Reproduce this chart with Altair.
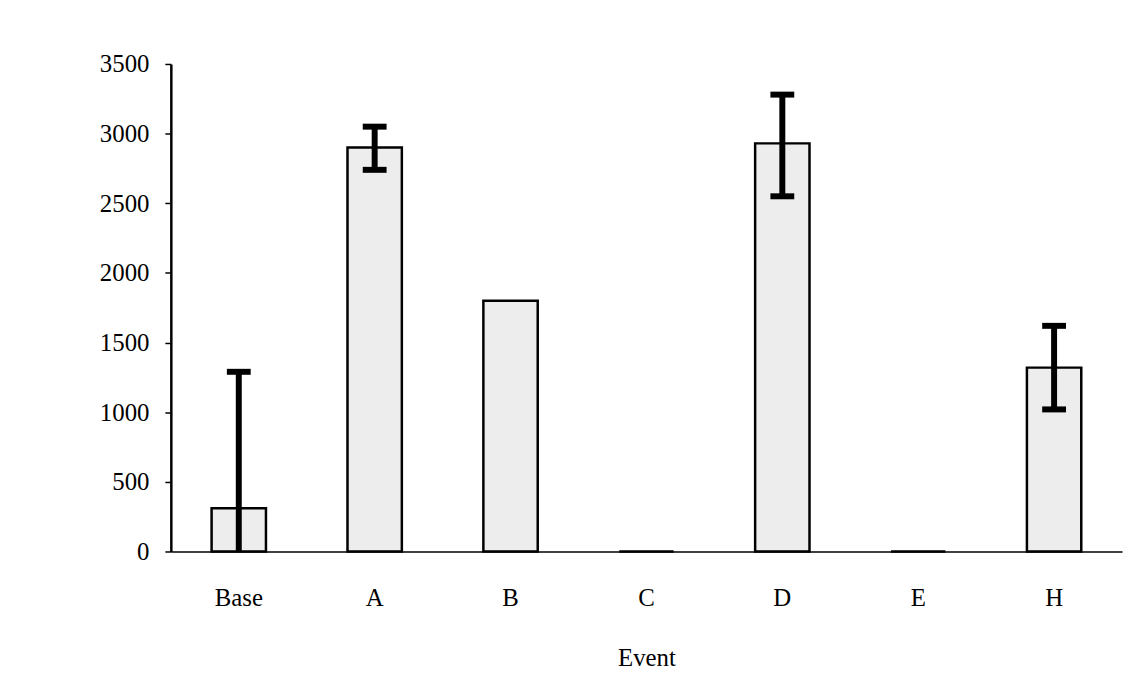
import altair as alt
import pandas as pd

events = ["Base", "A", "B", "C", "D", "E", "H"]
values = [310, 2900, 1800, 0, 2930, 0, 1320]
err_low = [0, 2740, None, None, 2550, None, 1020]
err_high = [1290, 3050, None, None, 3280, None, 1620]

df = pd.DataFrame({"event": events, "value": values, "lo": err_low, "hi": err_high})
err = df.dropna(subset=["hi"])
caps_hi = err[["event", "hi"]].rename(columns={"hi": "y"})
caps_lo = err[err["lo"] > 0][["event", "lo"]].rename(columns={"lo": "y"})
caps = pd.concat([caps_hi, caps_lo])

x = alt.X("event:N", sort=events, title="Event",
          scale=alt.Scale(paddingInner=0.6, paddingOuter=0.3),
          axis=alt.Axis(labelAngle=0, ticks=False, labelPadding=34, titlePadding=36,
                        labelFont="Liberation Serif", labelFontSize=25, labelColor="black",
                        titleFont="Liberation Serif", titleFontSize=25, titleFontWeight="normal",
                        titleColor="black", domainColor="black", domainWidth=1.5))
y = alt.Y("value:Q", title=None,
          scale=alt.Scale(domain=[0, 3500], nice=False),
          axis=alt.Axis(values=[0, 500, 1000, 1500, 2000, 2500, 3000, 3500], grid=False,
                        format="d", tickSize=6, tickColor="black", tickWidth=1.5, labelPadding=16,
                        labelFont="Liberation Serif", labelFontSize=25, labelColor="black",
                        domainColor="black", domainWidth=2.5))

bars = alt.Chart(df).mark_bar(fill="#ededed", stroke="black", strokeWidth=2.5).encode(x=x, y=y)

rules = alt.Chart(err).mark_rule(color="black", strokeWidth=6).encode(
    x=alt.X("event:N", sort=events), y=alt.Y("lo:Q"), y2="hi:Q")

capmarks = alt.Chart(caps).mark_tick(color="black", opacity=1, thickness=6, size=24).encode(
    x=alt.X("event:N", sort=events), y=alt.Y("y:Q"))

chart = alt.layer(bars, rules, capmarks).properties(
    width=958, height=491,
    background="white",
    autosize=alt.AutoSizeParams(type="none"),
    padding={"left": 164, "top": 54, "right": 5, "bottom": 120},
).configure_view(stroke=None)

chart.save("out.html", embed_options={"renderer": "svg", "actions": False})
